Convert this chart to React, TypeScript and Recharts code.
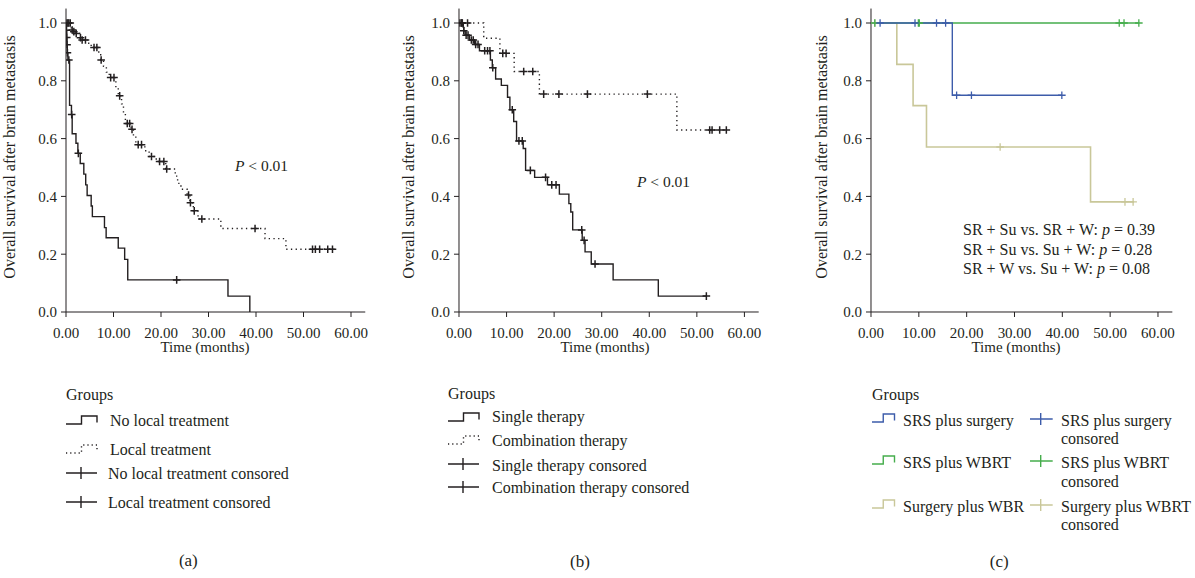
import React from 'react';
import { ComposedChart, Line, XAxis, YAxis } from 'recharts';

const FONT = '"Liberation Serif", "Times New Roman", serif';
const INK = '#231f20';
const BLUE = '#3d5caa';
const GREEN = '#45ad4c';
const KHAKI = '#c9c799';

const xTicks = [0, 10, 20, 30, 40, 50, 60];
const yTicks = [0, 0.2, 0.4, 0.6, 0.8, 1.0];

// ---------- Panel (a) ----------
const aNoLocalTime = [0, 0.08, 0.14, 0.2, 0.28, 0.4, 0.75, 1.15, 1.3, 2.1, 2.5, 3.0, 3.75, 4.15, 4.45, 5.3, 5.55, 8.1, 8.45, 11.0, 12.35, 13.0, 34.1, 38.7];
const aNoLocalSurv = [1.0, 0.975, 0.95, 0.925, 0.897, 0.872, 0.715, 0.683, 0.617, 0.584, 0.549, 0.514, 0.477, 0.44, 0.403, 0.367, 0.33, 0.292, 0.257, 0.221, 0.182, 0.111, 0.055, 0];
const aNoLocalCensTime = [0.1, 0.16, 0.22, 0.3, 0.6, 1.2, 2.6, 23.3];
const aNoLocalCensSurv = [0.975, 0.95, 0.925, 0.897, 0.872, 0.683, 0.549, 0.111];

const aLocalTime = [0, 1.1, 1.5, 2.0, 2.9, 3.3, 4.6, 5.3, 6.9, 7.3, 7.9, 8.5, 9.1, 10.5, 11.0, 11.7, 12.1, 12.5, 13.7, 14.2, 14.7, 16.6, 17.5, 19.0, 21.0, 23.0, 23.5, 24.2, 25.5, 26.1, 26.8, 27.8, 32.6, 41.9, 46.3, 56.6];
const aLocalSurv = [1.0, 0.976, 0.97, 0.964, 0.949, 0.941, 0.93, 0.915, 0.893, 0.872, 0.85, 0.83, 0.811, 0.78, 0.748, 0.72, 0.69, 0.652, 0.632, 0.605, 0.579, 0.558, 0.538, 0.521, 0.495, 0.47, 0.445, 0.425, 0.405, 0.378, 0.35, 0.322, 0.289, 0.254, 0.217, 0.217];
const aLocalCensTime = [0.2, 0.4, 0.6, 0.9, 1.3, 1.65, 2.15, 3.05, 3.4, 4.1, 5.9, 6.5, 7.4, 9.4, 10.1, 11.3, 12.9, 13.4, 13.9, 15.2, 15.9, 18.0, 19.7, 20.6, 21.2, 25.8, 26.2, 27.0, 28.6, 39.8, 51.9, 52.5, 53.4, 55.1, 56.1];
const aLocalCensSurv = [1, 1, 1, 1, 0.976, 0.97, 0.964, 0.949, 0.941, 0.941, 0.915, 0.915, 0.872, 0.811, 0.811, 0.748, 0.652, 0.652, 0.632, 0.579, 0.579, 0.538, 0.521, 0.521, 0.495, 0.405, 0.378, 0.35, 0.322, 0.289, 0.217, 0.217, 0.217, 0.217, 0.217];

// ---------- Panel (b) ----------
const bSingleTime = [0, 0.9, 1.0, 1.3, 2.2, 3.3, 4.3, 6.6, 7.0, 7.7, 8.9, 10.2, 10.7, 11.5, 12.1, 13.5, 14.0, 15.9, 18.6, 21.1, 23.1, 23.5, 23.9, 25.9, 26.5, 27.8, 32.4, 41.9, 52.0];
const bSingleSurv = [1.0, 0.985, 0.973, 0.958, 0.941, 0.926, 0.904, 0.872, 0.845, 0.806, 0.784, 0.743, 0.70, 0.659, 0.592, 0.566, 0.49, 0.466, 0.44, 0.408, 0.375, 0.346, 0.284, 0.248, 0.208, 0.166, 0.111, 0.055, 0.055];
const bSingleCensTime = [0.2, 0.5, 0.7, 1.0, 1.5, 1.9, 2.6, 3.0, 3.5, 4.0, 5.4, 6.0, 6.5, 7.1, 11.2, 12.6, 13.3, 15.0, 18.2, 19.5, 20.4, 25.8, 26.3, 28.6, 52.0];
const bSingleCensSurv = [1, 1, 1, 0.973, 0.958, 0.958, 0.941, 0.941, 0.926, 0.926, 0.904, 0.904, 0.904, 0.845, 0.70, 0.592, 0.592, 0.49, 0.466, 0.44, 0.44, 0.284, 0.248, 0.166, 0.055];

const bComboTime = [0, 5.2, 8.6, 11.6, 16.9, 45.8, 56.5];
const bComboSurv = [1.0, 0.947, 0.895, 0.832, 0.754, 0.63, 0.63];
const bComboCensTime = [0.6, 1.8, 9.2, 9.9, 13.6, 15.5, 17.8, 21.0, 27.0, 39.6, 52.7, 53.2, 54.8, 56.2];
const bComboCensSurv = [1, 1, 0.895, 0.895, 0.832, 0.832, 0.754, 0.754, 0.754, 0.754, 0.63, 0.63, 0.63, 0.63];

// ---------- Panel (c) ----------
const cSurgTime = [0, 17.0, 39.9];
const cSurgSurv = [1.0, 0.75, 0.75];
const cSurgCensTime = [1.9, 9.2, 13.7, 15.6, 17.9, 21.0, 39.9];
const cSurgCensSurv = [1, 1, 1, 1, 0.75, 0.75, 0.75];

const cWbrtTime = [0, 56.0];
const cWbrtSurv = [1.0, 1.0];
const cWbrtCensTime = [0.8, 9.9, 10.1, 51.9, 52.9, 56.0];
const cWbrtCensSurv = [1, 1, 1, 1, 1, 1];

const cSwTime = [0, 5.4, 8.8, 11.6, 45.9, 55.0];
const cSwSurv = [1.0, 0.857, 0.714, 0.571, 0.381, 0.381];
const cSwCensTime = [0.8, 27.0, 53.1, 54.8];
const cSwCensSurv = [1, 0.571, 0.381, 0.381];

const zip = (t: number[], s: number[]) => t.map((v, i) => ({ t: v, s: s[i] }));

type Series = {
  id: string;
  time: number[];
  surv: number[];
  censTime: number[];
  censSurv: number[];
  color: string;
  dashed?: boolean;
  width: number;
};

const seriesA: Series[] = [
  { id: 'noLocal', time: aNoLocalTime, surv: aNoLocalSurv, censTime: aNoLocalCensTime, censSurv: aNoLocalCensSurv, color: INK, width: 1.4 },
  { id: 'local', time: aLocalTime, surv: aLocalSurv, censTime: aLocalCensTime, censSurv: aLocalCensSurv, color: INK, dashed: true, width: 1.4 },
];
const seriesB: Series[] = [
  { id: 'single', time: bSingleTime, surv: bSingleSurv, censTime: bSingleCensTime, censSurv: bSingleCensSurv, color: INK, width: 1.4 },
  { id: 'combo', time: bComboTime, surv: bComboSurv, censTime: bComboCensTime, censSurv: bComboCensSurv, color: INK, dashed: true, width: 1.4 },
];
const seriesC: Series[] = [
  { id: 'sw', time: cSwTime, surv: cSwSurv, censTime: cSwCensTime, censSurv: cSwCensSurv, color: KHAKI, width: 1.6 },
  { id: 'wbrt', time: cWbrtTime, surv: cWbrtSurv, censTime: cWbrtCensTime, censSurv: cWbrtCensSurv, color: GREEN, width: 1.4 },
  { id: 'surg', time: cSurgTime, surv: cSurgSurv, censTime: cSurgCensTime, censSurv: cSurgCensSurv, color: BLUE, width: 1.4 },
];

function crossDot(color: string, w: number) {
  return (props: any) => {
    const { cx, cy, index } = props;
    if (cx == null || cy == null || isNaN(cx) || isNaN(cy)) return <g key={`e${index}`} />;
    return (
      <path
        key={`c${index}`}
        d={`M${cx - 3.8},${cy}H${cx + 3.8}M${cx},${cy - 3.8}V${cy + 3.8}`}
        stroke={color}
        strokeWidth={w}
        fill="none"
      />
    );
  };
}

const tickStyle = { fill: INK, fontSize: 15, fontFamily: FONT };

function Panel({ axisX, ppm, series }: { axisX: number; ppm: number; series: Series[] }) {
  const plotW = 63 * ppm;
  const width = 66 + plotW + 12;
  return (
    <div style={{ position: 'absolute', left: axisX - 66, top: 0 }}>
      <ComposedChart width={width} height={370} margin={{ top: 312 - 1.05 * 289, right: 12, bottom: 0, left: 0 }}>
        <XAxis
          type="number"
          dataKey="t"
          domain={[0, 63]}
          ticks={xTicks}
          interval={0}
          allowDataOverflow
          tickFormatter={(v: number) => v.toFixed(2)}
          height={58}
          tickSize={5}
          tickMargin={10}
          stroke={INK}
          tick={tickStyle}
        />
        <YAxis
          type="number"
          domain={[0, 1.05]}
          ticks={yTicks}
          interval={0}
          allowDataOverflow
          tickFormatter={(v: number) => v.toFixed(1)}
          width={66}
          tickSize={5}
          tickMargin={4}
          stroke={INK}
          tick={tickStyle}
        />
        {series.map((s) => (
          <Line
            key={s.id + '-curve'}
            data={zip(s.time, s.surv)}
            dataKey="s"
            type="stepAfter"
            stroke={s.color}
            strokeWidth={s.width}
            strokeDasharray={s.dashed ? '1.3 3.4' : undefined}
            dot={false}
            activeDot={false}
            isAnimationActive={false}
            legendType="none"
          />
        ))}
        {series.map((s) => (
          <Line
            key={s.id + '-cens'}
            data={zip(s.censTime, s.censSurv)}
            dataKey="s"
            type="linear"
            stroke="none"
            strokeWidth={0}
            dot={crossDot(s.color, s.color === INK ? 1.5 : 1.3)}
            activeDot={false}
            isAnimationActive={false}
            legendType="none"
          />
        ))}
      </ComposedChart>
    </div>
  );
}

function Txt({ x, y, size, children, anchor = 'start' }: any) {
  const base: any = {
    position: 'absolute',
    top: y - 0.62 * size,
    fontSize: size,
    lineHeight: `${1.2 * size}px`,
    whiteSpace: 'nowrap',
    fontFamily: FONT,
    color: INK,
  };
  if (anchor === 'middle') {
    base.left = x - 200;
    base.width = 400;
    base.textAlign = 'center';
  } else {
    base.left = x;
  }
  return <div style={base}>{children}</div>;
}

function VTxt({ x, y, size, children }: any) {
  return (
    <div
      style={{
        position: 'absolute',
        left: x - 200,
        top: y - 0.62 * size,
        width: 400,
        textAlign: 'center',
        fontSize: size,
        lineHeight: `${1.2 * size}px`,
        whiteSpace: 'nowrap',
        fontFamily: FONT,
        color: INK,
        transform: 'rotate(-90deg)',
        transformOrigin: `200px ${0.62 * size}px`,
      }}
    >
      {children}
    </div>
  );
}

function StepIcon({ x, y, w, color, dashed }: any) {
  return (
    <svg style={{ position: 'absolute', left: x - 1, top: y - 10 }} width={w + 2} height={14}>
      <path
        d={`M1,10H${1 + w * 0.5}V2H${1 + w}V8.5`}
        stroke={color}
        strokeWidth={1.4}
        fill="none"
        strokeDasharray={dashed ? '1.2 3' : undefined}
      />
    </svg>
  );
}

function CrossIcon({ x, y, w, color, cx }: any) {
  return (
    <svg style={{ position: 'absolute', left: x - 1, top: y - 6 }} width={w + 2} height={14}>
      <path d={`M1,6H${1 + w}M${1 + cx},0V12`} stroke={color} strokeWidth={1.4} fill="none" />
    </svg>
  );
}

export default function App() {
  const LS = 16;
  return (
    <div style={{ position: 'absolute', left: 0, top: 0, width: 1195, height: 578, background: '#fff', overflow: 'hidden' }}>
      <Panel axisX={66.3} ppm={4.75} series={seriesA} />
      <Panel axisX={459.3} ppm={4.757} series={seriesB} />
      <Panel axisX={871} ppm={4.783} series={seriesC} />

      {/* axis titles */}
      <VTxt x={10} y={157} size={16}>Overall survival after brain metastasis</VTxt>
      <VTxt x={409} y={157} size={16}>Overall survival after brain metastasis</VTxt>
      <VTxt x={822} y={157} size={16}>Overall survival after brain metastasis</VTxt>
      <Txt x={205} y={347.5} size={15} anchor="middle">Time (months)</Txt>
      <Txt x={605} y={347.5} size={15} anchor="middle">Time (months)</Txt>
      <Txt x={1016} y={347.5} size={15} anchor="middle">Time (months)</Txt>

      {/* annotations */}
      <Txt x={235} y={167} size={15.5}><i>P</i> &lt; 0.01</Txt>
      <Txt x={637} y={183} size={15.5}><i>P</i> &lt; 0.01</Txt>
      <Txt x={963} y={230} size={16}>SR + Su vs. SR + W: <i>p</i> = 0.39</Txt>
      <Txt x={963} y={249.5} size={16}>SR + Su vs. Su + W: <i>p</i> = 0.28</Txt>
      <Txt x={963} y={269} size={16}>SR + W vs. Su + W: <i>p</i> = 0.08</Txt>

      {/* legend (a) */}
      <Txt x={66} y={395} size={LS}>Groups</Txt>
      <StepIcon x={66} y={424.3} w={31} color={INK} />
      <Txt x={110} y={421} size={LS}>No local treatment</Txt>
      <StepIcon x={66} y={453} w={31} color={INK} dashed />
      <Txt x={110} y={450} size={LS}>Local treatment</Txt>
      <CrossIcon x={66} y={473.3} w={31} cx={15} color={INK} />
      <Txt x={108} y={474.3} size={LS}>No local treatment consored</Txt>
      <CrossIcon x={66} y={501.7} w={31} cx={15} color={INK} />
      <Txt x={108} y={503.3} size={LS}>Local treatment consored</Txt>
      <Txt x={188.3} y={562} size={17} anchor="middle">(a)</Txt>

      {/* legend (b) */}
      <Txt x={448} y={394.3} size={LS}>Groups</Txt>
      <StepIcon x={448} y={420.7} w={31} color={INK} />
      <Txt x={492} y={417.3} size={LS}>Single therapy</Txt>
      <StepIcon x={448} y={444} w={31} color={INK} dashed />
      <Txt x={492} y={440.7} size={LS}>Combination therapy</Txt>
      <CrossIcon x={448} y={464.3} w={31} cx={15} color={INK} />
      <Txt x={492} y={465.7} size={LS}>Single therapy consored</Txt>
      <CrossIcon x={448} y={487} w={31} cx={15} color={INK} />
      <Txt x={492} y={488.3} size={LS}>Combination therapy consored</Txt>
      <Txt x={580} y={563} size={17} anchor="middle">(b)</Txt>

      {/* legend (c) */}
      <Txt x={872} y={395} size={LS}>Groups</Txt>
      <StepIcon x={872} y={422.3} w={22.5} color={BLUE} />
      <Txt x={903} y={420.7} size={LS}>SRS plus surgery</Txt>
      <StepIcon x={872} y={464.3} w={22.5} color={GREEN} />
      <Txt x={903} y={462.7} size={LS}>SRS plus WBRT</Txt>
      <StepIcon x={872} y={508.3} w={22.5} color={KHAKI} />
      <Txt x={903} y={506.7} size={LS}>Surgery plus WBR</Txt>

      <CrossIcon x={1030} y={419.3} w={22.7} cx={10.7} color={BLUE} />
      <Txt x={1061} y={420.7} size={LS}>SRS plus surgery</Txt>
      <Txt x={1061} y={439.3} size={LS}>consored</Txt>
      <CrossIcon x={1030} y={461.3} w={22.7} cx={10.7} color={GREEN} />
      <Txt x={1061} y={462.7} size={LS}>SRS plus WBRT</Txt>
      <Txt x={1061} y={482.3} size={LS}>consored</Txt>
      <CrossIcon x={1030} y={505.3} w={22.7} cx={10.7} color={KHAKI} />
      <Txt x={1061} y={506.7} size={LS}>Surgery plus WBRT</Txt>
      <Txt x={1061} y={525} size={LS}>consored</Txt>
      <Txt x={999.3} y={563} size={17} anchor="middle">(c)</Txt>
    </div>
  );
}
